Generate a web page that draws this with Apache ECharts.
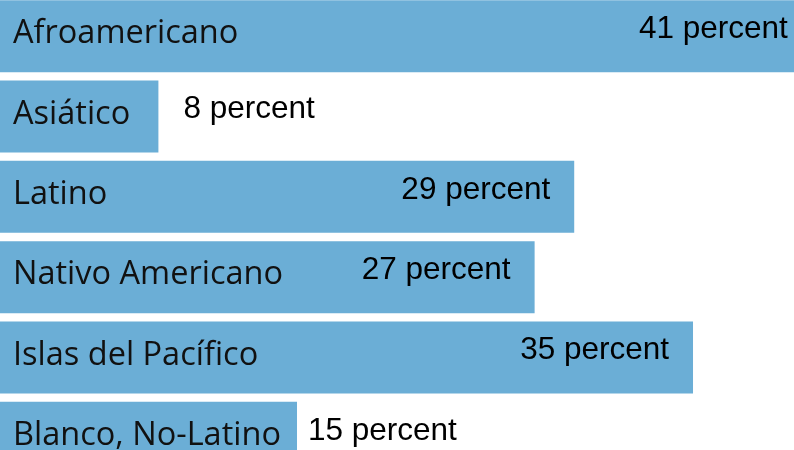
<!DOCTYPE html>
<html>
<head>
<meta charset="utf-8">
<script src="https://cdn.jsdelivr.net/npm/echarts@6/dist/echarts.min.js"></script>
<style>
  html, body { margin: 0; padding: 0; background: #fff; overflow: hidden; }
  /* taller than the window so the last bar runs off the bottom */
  #chart { position: absolute; left: 0; top: -4.2px; width: 794px; height: 482.4px; }
</style>
</head>
<body>
<div id="chart"></div>
<script>
var categories = ['Afroamericano', 'Asiático', 'Latino', 'Nativo Americano', 'Islas del Pacífico', 'Blanco, No-Latino'];
var values = [41, 8, 29, 27, 35, 15];

var myChart = echarts.init(document.getElementById('chart'));

// short bars get the value outside, long ones inside
var barData = values.map(function (v, i) {
    var outside = v < 20;
    return {
        value: v,
        label: {
            position: outside ? 'right' : 'insideRight',
            distance: outside ? (i === 1 ? 25 : 11) : 24
        }
    };
});

var option = {
    animation: false,
    grid: { left: 0, right: 0, top: 0, bottom: 0 },
    xAxis: {
        type: 'value',
        min: 0,
        max: 40.1,
        show: false
    },
    yAxis: {
        type: 'category',
        data: categories,
        inverse: true,
        show: false
    },
    series: [
        {
            type: 'bar',
            data: barData,
            barWidth: 72,
            clip: false,
            itemStyle: { color: '#6baed6' },
            label: {
                show: true,
                formatter: '{c} percent',
                color: '#000',
                fontFamily: 'Liberation Sans',
                fontSize: 31.5,
                offset: [0, -7]
            }
        },
        {
            // category names drawn inside the bars
            type: 'bar',
            data: values,
            barWidth: 72,
            barGap: '-100%',
            silent: true,
            clip: false,
            itemStyle: { color: 'transparent' },
            label: {
                show: true,
                position: 'insideLeft',
                distance: 13,
                offset: [0, -2],
                formatter: function (p) { return categories[p.dataIndex]; },
                color: '#111',
                fontFamily: 'Open Sans',
                fontSize: 32.5
            }
        }
    ]
};

myChart.setOption(option);
</script>
</body>
</html>
